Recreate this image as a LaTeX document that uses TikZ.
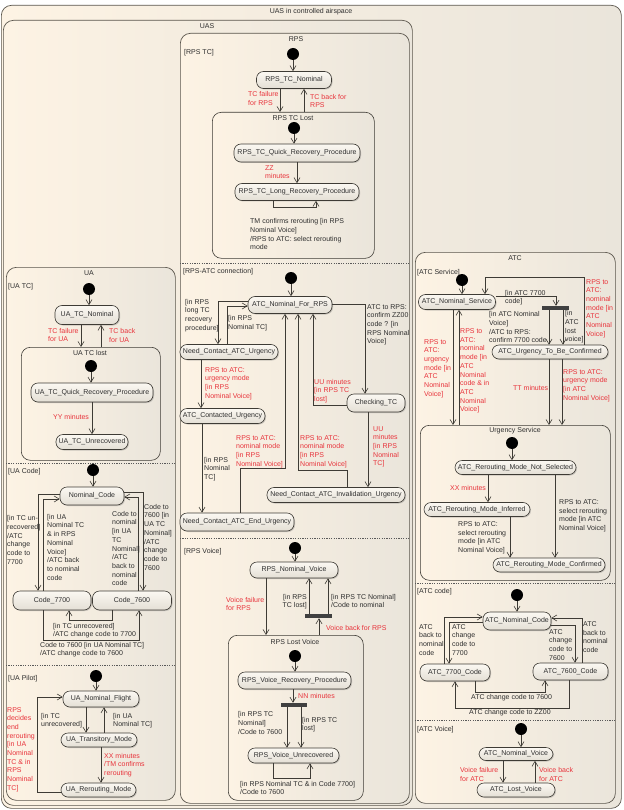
\documentclass[tikz,border=0pt]{standalone}
\usepackage{fontspec}
\setmainfont{Liberation Sans}
\usetikzlibrary{arrows.meta,shadows}
\definecolor{creamL}{HTML}{FDF3E4}
\definecolor{creamR}{HTML}{EAE5DB}
\definecolor{stT}{HTML}{FBF8F2}
\definecolor{stB}{HTML}{E4DFD5}
\definecolor{linec}{HTML}{3E3B35}
\definecolor{framec}{HTML}{5A554C}
\definecolor{txtc}{HTML}{2E2E2E}
\definecolor{redc}{HTML}{E8333B}
\newcommand\dgfont{\fontsize{7}{8.7}\selectfont}
\begin{document}
\begin{tikzpicture}[x=1pt,y=-1pt,
  font=\dgfont, text=txtc,
  frame/.style={draw=framec, line width=0.7pt, rounded corners=10pt, left color=creamL, right color=creamR, inner sep=0pt, anchor=north west},
  cframe/.style={draw=linec, line width=0.6pt, rounded corners=9pt, left color=creamL, right color=creamR, inner sep=0pt, anchor=north west},
  state/.style={draw=linec, line width=0.6pt, rounded corners=7pt, top color=stT, bottom color=stB, inner sep=1pt, drop shadow={shadow xshift=1pt,shadow yshift=-1pt,opacity=0.3,fill=black!60}},
  init/.style={circle, fill=black, draw=none, minimum size=12pt, inner sep=0pt},
  bar/.style={fill=black!75, draw=none, minimum height=4pt, inner sep=0pt},
  tr/.style={draw=linec, line width=0.6pt, -{Straight Barb[length=5pt,width=6pt]}},
  sep/.style={draw=black!65, line width=0.6pt, dash pattern=on 1.2pt off 1.2pt},
  ttl/.style={inner sep=0pt, anchor=center},
  lbl/.style={inner sep=0pt, anchor=north west, align=left},
  rlbl/.style={lbl, text=redc},
]
\useasboundingbox (0,0) rectangle (623,810);
\fill[white] (0,0) rectangle (623,810);
% ---------- frames ----------
\node[frame, minimum width=620pt, minimum height=803pt] (outer) at (1,5) {};
\node[ttl] (outerT) at (311,12) {UAS in controlled airspace};
\node[frame, minimum width=409pt, minimum height=785pt] (uas) at (3,20) {};
\node[ttl] (uasT) at (207,26) {UAS};
\node[frame, minimum width=229pt, minimum height=770pt] (rps) at (180,33) {};
\node[ttl] (rpsT) at (296,39) {RPS};
\node[frame, minimum width=169pt, minimum height=533pt] (ua) at (6,267) {};
\node[ttl] (uaT) at (89,273) {UA};
\node[frame, minimum width=200pt, minimum height=551pt] (atc) at (415,252) {};
\node[ttl] (atcT) at (515,258) {ATC};
% separators
\draw[sep] (rps.west |- 0,263) -- (rps.east |- 0,263);
\draw[sep] (rps.west |- 0,538) -- (rps.east |- 0,538);
\draw[sep] (ua.west |- 0,463) -- (ua.east |- 0,463);
\draw[sep] (ua.west |- 0,665) -- (ua.east |- 0,665);
\draw[sep] (atc.west |- 0,583) -- (atc.east |- 0,583);
\draw[sep] (atc.west |- 0,720) -- (atc.east |- 0,720);
% region labels
\node[lbl] (rtcL) at (184,49) {[RPS TC]};
\node[lbl] (rconnL) at (183,268) {[RPS-ATC connection]};
\node[lbl] (rvL) at (184,548) {[RPS Voice]};
\node[lbl] (uatcL) at (8,283) {[UA TC]};
\node[lbl] (uacL) at (8,468) {[UA Code]};
\node[lbl] (uapL) at (8,675) {[UA Pilot]};
\node[lbl] (atcsL) at (417,269) {[ATC Service]};
\node[lbl] (atccL) at (417,588) {[ATC code]};
\node[lbl] (atcvL) at (417,726) {[ATC Voice]};
% composite states
\node[cframe, minimum width=162pt, minimum height=146pt] (tclost) at (212,112) {};
\node[ttl] (tclostT) at (293,118) {RPS TC Lost};
\node[cframe, minimum width=139pt, minimum height=113pt] (uatclost) at (21,347) {};
\node[ttl] (uatclostT) at (90,353) {UA TC lost};
\node[cframe, minimum width=135pt, minimum height=165pt] (lostv) at (228,635) {};
\node[ttl] (lostvT) at (295,642) {RPS Lost Voice};
\node[cframe, minimum width=190pt, minimum height=155pt] (urgsvc) at (420,425) {};
\node[ttl] (urgsvcT) at (515,431) {Urgency Service};

% ---------- RPS TC ----------
\node[init] (i1) at (293,54) {};
\node[state, minimum width=75pt, minimum height=17pt] (tcnom) at (294,80) {RPS\_TC\_Nominal};
\node[init] (i2) at (294,128) {};
\node[state, minimum width=126pt, minimum height=18pt] (tcquick) at (297,153) {RPS\_TC\_Quick\_Recovery\_Procedure};
\node[state, minimum width=124pt, minimum height=17pt] (tclong) at (297,192) {RPS\_TC\_Long\_Recovery\_Procedure};
\draw[tr] (i1) -- (tcnom.north -| i1);
\draw[tr] (tcnom.south -| 280,0) -- (tclost.north -| 280,0);
\draw[tr] (tclost.north -| 304,0) -- (tcnom.south -| 304,0);
\draw[tr] (i2) -- (tcquick.north -| i2);
\draw[tr] (tcquick.south -| 297,0) -- (tclong.north -| 297,0);
\draw[tr] (tclong.south -| 273,0) |- (316,207) -- (tclong.south -| 316,0);
\node[rlbl] (l1) at (248,91.5) {TC failure\\for RPS};
\node[rlbl] (l2) at (310,94) {TC back for\\RPS};
\node[rlbl] (l3) at (265,165) {ZZ\\minutes};
\node[lbl] (l4) at (250,218.5) {TM confirms rerouting [in RPS\\Nominal Voice]\\/RPS to ATC: select rerouting\\mode};

% ---------- RPS-ATC connection ----------
\node[init] (i3) at (291,278) {};
\node[state, minimum width=84pt, minimum height=17pt] (atcnom) at (290,305) {ATC\_Nominal\_For\_RPS};
\node[state, minimum width=98pt, minimum height=15pt] (ncurg) at (229,352) {Need\_Contact\_ATC\_Urgency};
\node[state, minimum width=85pt, minimum height=15pt] (acurg) at (222.5,416) {ATC\_Contacted\_Urgency};
\node[state, minimum width=114pt, minimum height=18pt] (ncend) at (237,522) {Need\_Contact\_ATC\_End\_Urgency};
\node[state, minimum width=58pt, minimum height=18pt] (chk) at (376,403) {Checking\_TC};
\node[state, minimum width=138pt, minimum height=15pt] (ncinv) at (336,495) {Need\_Contact\_ATC\_Invalidation\_Urgency};
\draw[tr] (i3) -- (atcnom.north -| i3);
\draw[tr] (atcnom.west |- 0,301) -| (ncurg.north -| 218,0);
\draw[tr] (ncurg.north -| 227,0) |- (atcnom.west |- 0,306);
\draw[tr] (ncurg.south -| 201,0) -- (acurg.north -| 201,0);
\draw[tr] (acurg.south -| 202,0) -- (ncend.north -| 202,0);
\draw[tr] (ncend.north -| 240,0) |- (285,468) -- (atcnom.south -| 285,0);
\draw[tr] (atcnom.east |- 0,304) -| (chk.north -| 365,0);
\draw[tr] (chk.west |- 0,405) -| (atcnom.south -| 313,0);
\draw[tr] (chk.south -| 368,0) -- (ncinv.north -| 368,0);
\draw[tr] (ncinv.north -| 347,0) |- (298,470) -- (atcnom.south -| 298,0);
\node[lbl] (l5) at (185,299) {[in RPS\\long TC\\recovery\\procedure]};
\node[lbl] (l6) at (228,315.5) {[in RPS\\Nominal TC]};
\node[rlbl] (l7) at (205,367) {RPS to ATC:\\urgency mode\\{}[in RPS\\Nominal Voice]};
\node[lbl] (l8) at (204,457) {[in RPS\\Nominal\\TC]};
\node[rlbl] (l9) at (236,435) {RPS to ATC:\\nominal mode\\{}[in RPS\\Nominal Voice]};
\node[lbl] (l10) at (367,304) {ATC to RPS:\\confirm ZZ00\\code ? [in\\RPS Nominal\\Voice]};
\node[rlbl] (l11) at (314,379) {UU minutes\\{}[in RPS TC\\lost]};
\node[rlbl] (l12) at (373,426) {UU\\minutes\\{}[in RPS\\Nominal\\TC]};
\node[rlbl] (l13) at (300,435) {RPS to ATC:\\nominal mode\\{}[in RPS\\Nominal Voice]};

% ---------- RPS Voice ----------
\node[init] (i4) at (295,548) {};
\node[state, minimum width=88pt, minimum height=16pt] (nomv) at (294,570) {RPS\_Nominal\_Voice};
\node[bar, minimum width=27pt] (bar1) at (318.5,616) {};
\node[init] (i5) at (295,656) {};
\node[state, minimum width=113pt, minimum height=17pt] (vrec) at (294.5,680.5) {RPS\_Voice\_Recovery\_Procedure};
\node[bar, minimum width=26pt] (bar2) at (294,705) {};
\node[state, minimum width=91pt, minimum height=15pt] (vunrec) at (293.5,755.5) {RPS\_Voice\_Unrecovered};
\draw[tr] (i4) -- (nomv.north -| i4);
\draw[tr] (nomv.south -| 266,0) -- (lostv.north -| 266,0);
\draw[tr] (bar1.north -| 309,0) -- (nomv.south -| 309,0);
\draw[tr] (bar1.north -| 328,0) -- (nomv.south -| 328,0);
\draw[tr] (lostv.north -| 319,0) -- (bar1.south -| 319,0);
\draw[tr] (i5) -- (vrec.north -| i5);
\draw[tr] (vrec.south -| 293,0) -- (bar2.north -| 293,0);
\draw[tr] (bar2.south -| 287,0) -- (vunrec.north -| 287,0);
\draw[tr] (bar2.south -| 301,0) -- (vunrec.north -| 301,0);
\draw[tr] (vunrec.south -| 273,0) |- (310,778) -- (vunrec.south -| 310,0);
\node[rlbl] (l14) at (226,597) {Voice failure\\for RPS};
\node[lbl, anchor=north east, align=right] (l15) at (307,594) {[in RPS\\TC lost]};
\node[lbl] (l16) at (331,594) {[in RPS TC Nominal]\\/Code to nominal};
\node[rlbl] (l17) at (326,625.5) {Voice back for RPS};
\node[rlbl] (l18) at (298,693) {NN minutes};
\node[lbl] (l19) at (238,711.5) {[in RPS TC\\Nominal]\\/Code to 7600};
\node[lbl] (l20) at (302,717) {[in RPS TC\\lost]};
\node[lbl] (l21) at (240,781) {[in RPS Nominal TC \& in Code 7700]\\/Code to 7600};

% ---------- UA TC ----------
\node[init] (i6) at (89,289) {};
\node[state, minimum width=64pt, minimum height=19pt] (uatcnom) at (87,315) {UA\_TC\_Nominal};
\node[init] (i7) at (91,366) {};
\node[state, minimum width=122pt, minimum height=19pt] (uaquick) at (92,392.5) {UA\_TC\_Quick\_Recovery\_Procedure};
\node[state, minimum width=72pt, minimum height=15pt] (uaunrec) at (92,442) {UA\_TC\_Unrecovered};
\draw[tr] (i6) -- (uatcnom.north -| i6);
\draw[tr] (uatcnom.south -| 81,0) -- (uatclost.north -| 81,0);
\draw[tr] (uatclost.north -| 101,0) -- (uatcnom.south -| 101,0);
\draw[tr] (i7) -- (uaquick.north -| i7);
\draw[tr] (uaquick.south -| 92,0) -- (uaunrec.north -| 92,0);
\node[rlbl] (l22) at (48,328) {TC failure\\for UA};
\node[rlbl] (l23) at (109,328.5) {TC back\\for UA};
\node[rlbl] (l24) at (53,414.5) {YY minutes};

% ---------- UA Code ----------
\node[init] (i8) at (93,470) {};
\node[state, minimum width=64pt, minimum height=18pt] (nomcode) at (92,496) {Nominal\_Code};
\node[state, minimum width=78pt, minimum height=19pt] (c7700) at (52,600.5) {Code\_7700};
\node[state, minimum width=79pt, minimum height=19pt] (c7600) at (132,600.5) {Code\_7600};
\draw[tr] (i8) -- (nomcode.north -| i8);
\draw[tr] (nomcode.west |- 0,494) -| (c7700.north -| 38,0);
\draw[tr] (c7700.north -| 43,0) |- (nomcode.west |- 0,499);
\draw[tr] (nomcode.east |- 0,492) -| (c7600.north -| 143,0);
\draw[tr] (c7600.north -| 138,0) |- (nomcode.east |- 0,497);
\draw[tr] (c7600.south -| 112,0) |- (69,620) -- (c7700.south -| 69,0);
\draw[tr] (c7700.south -| 43,0) |- (139,640.5) -- (c7600.south -| 139,0);
\node[lbl] (l25) at (7,515.5) {[in TC un-\\recovered]\\/ATC\\change\\code to\\7700};
\node[lbl] (l26) at (47,514) {[in UA\\Nominal TC\\\& in RPS\\Nominal\\Voice]\\/ATC back\\to nominal\\code};
\node[lbl] (l27) at (112,511) {Code to\\nominal\\{}[in UA\\TC\\Nominal]\\/ATC\\back to\\nominal\\code};
\node[lbl] (l28) at (144,504) {Code to\\7600 [in\\UA TC\\Nominal]\\/ATC\\change\\code to\\7600};
\node[lbl] (l29) at (53,623) {[in TC unrecovered]\\/ATC change code to 7700};
\node[lbl] (l30) at (40,642) {Code to 7600 [in UA Nominal TC]\\/ATC change code to 7600};

% ---------- UA Pilot ----------
\node[init] (i9) at (96,676) {};
\node[state, minimum width=76pt, minimum height=16pt] (uanf) at (101,699) {UA\_Nominal\_Flight};
\node[state, minimum width=76pt, minimum height=14pt] (uatm) at (99,740) {UA\_Transitory\_Mode};
\node[state, minimum width=75pt, minimum height=14pt] (uarr) at (98.5,790) {UA\_Rerouting\_Mode};
\draw[tr] (i9) -- (uanf.north -| i9);
\draw[tr] (uanf.south -| 86,0) -- (uatm.north -| 86,0);
\draw[tr] (uatm.north -| 104,0) -- (uanf.south -| 104,0);
\draw[tr] (uatm.south -| 101,0) -- (uarr.north -| 101,0);
\draw[tr] (uarr.west |- 0,792) -| (37,697) -- (uanf.west |- 0,697);
\node[lbl] (l31) at (41,713) {[in TC\\unrecovered]};
\node[lbl] (l32) at (113,713) {[in UA\\Nominal TC]};
\node[rlbl] (l33) at (104,753) {XX minutes\\/TM confirms\\rerouting};
\node[rlbl] (l34) at (7,707) {RPS\\decides\\end\\rerouting\\{}[in UA\\Nominal\\TC \& in\\RPS\\Nominal\\TC]};

% ---------- ATC Service ----------
\node[init] (i10) at (462,280) {};
\node[state, minimum width=77pt, minimum height=15pt] (atcns) at (457,302) {ATC\_Nominal\_Service};
\node[bar, minimum width=27pt] (bar3) at (555.5,308) {};
\node[state, minimum width=116pt, minimum height=14pt] (atcutbc) at (550,352) {ATC\_Urgency\_To\_Be\_Confirmed};
\draw[tr] (i10) -- (atcns.north -| i10);
\draw[tr] (atcutbc.north -| 584,0) |- (485,277) -- (atcns.north -| 485,0);
\draw[tr] (atcns.east |- 0,296) -| (bar3.north -| 556,0);
\draw[tr] (bar3.south -| 549,0) -- (atcutbc.north -| 549,0);
\draw[tr] (bar3.south -| 563,0) -- (atcutbc.north -| 563,0);
\draw[tr] (atcutbc.south -| 549,0) -- (urgsvc.north -| 549,0);
\draw[tr] (atcutbc.south -| 562,0) -- (urgsvc.north -| 562,0);
\draw[tr] (atcns.south -| 453,0) -- (urgsvc.north -| 453,0);
\draw[tr] (urgsvc.north -| 459,0) -- (atcns.south -| 459,0);
\node[rlbl] (l35) at (586,279) {RPS to\\ATC:\\nominal\\mode [in\\ATC\\Nominal\\Voice]};
\node[lbl] (l36) at (505,290) {[in ATC 7700\\code]};
\node[lbl] (l37) at (489,311.5) {[in ATC Nominal\\Voice]\\/ATC to RPS:\\confirm 7700 code};
\node[lbl] (l38) at (565,310.5) {[in\\ATC\\lost\\voice]};
\node[rlbl] (l39) at (513,385.5) {TT minutes};
\node[rlbl] (l40) at (563,369) {RPS to ATC:\\urgency mode\\{}[in ATC\\Nominal Voice]};
\node[rlbl] (l41) at (424,339) {RPS to\\ATC:\\urgency\\mode [in\\ATC\\Nominal\\Voice]};
\node[rlbl] (l42) at (460,328.5) {RPS to\\ATC:\\nominal\\mode [in\\ATC\\Nominal\\code \& in\\ATC\\Nominal\\Voice]};

% ---------- Urgency Service ----------
\node[init] (i11) at (512,443) {};
\node[state, minimum width=121pt, minimum height=14pt] (rmns) at (515.5,467.5) {ATC\_Rerouting\_Mode\_Not\_Selected};
\node[state, minimum width=106pt, minimum height=14pt] (rmi) at (477,509.5) {ATC\_Rerouting\_Mode\_Inferred};
\node[state, minimum width=112pt, minimum height=14pt] (rmc) at (549,565) {ATC\_Rerouting\_Mode\_Confirmed};
\draw[tr] (i11) -- (rmns.north -| i11);
\draw[tr] (rmns.south -| 488,0) -- (rmi.north -| 488,0);
\draw[tr] (rmi.south -| 510,0) -- (rmc.north -| 510,0);
\draw[tr] (rmns.south -| 555,0) -- (rmc.north -| 555,0);
\node[rlbl] (l43) at (450,485) {XX minutes};
\node[lbl] (l44) at (458,521.5) {RPS to ATC:\\select rerouting\\mode [in ATC\\Nominal Voice]};
\node[lbl] (l45) at (559,499.5) {RPS to ATC:\\select rerouting\\mode [in ATC\\Nominal Voice]};

% ---------- ATC code ----------
\node[init] (i12) at (517,595) {};
\node[state, minimum width=68pt, minimum height=18pt] (atcnc) at (517,621) {ATC\_Nominal\_Code};
\node[state, minimum width=70pt, minimum height=17pt] (a7700) at (455,672.5) {ATC\_7700\_Code};
\node[state, minimum width=75pt, minimum height=17pt] (a7600) at (570.5,671.5) {ATC\_7600\_Code};
\draw[tr] (i12) -- (atcnc.north -| i12);
\draw[tr] (a7700.north -| 444,0) |- (atcnc.west |- 0,617);
\draw[tr] (atcnc.west |- 0,622) -| (a7700.north -| 449,0);
\draw[tr] (a7600.north -| 582,0) |- (atcnc.east |- 0,618);
\draw[tr] (atcnc.east |- 0,625) -| (a7600.north -| 575,0);
\draw[tr] (a7700.south -| 475,0) |- (545,692) -- (a7600.south -| 545,0);
\draw[tr] (a7600.south -| 569,0) |- (455,708) -- (a7700.south -| 455,0);
\node[lbl] (l46) at (419,624) {ATC\\back to\\nominal\\code};
\node[lbl] (l47) at (452,624) {ATC\\change\\code to\\7700};
\node[lbl] (l48) at (583,621.5) {ATC\\back to\\nominal\\code};
\node[lbl] (l49) at (549,629) {ATC\\change\\code to\\7600};
\node[lbl] (l50) at (471,694.5) {ATC change code to 7600};
\node[lbl] (l51) at (469,709.5) {ATC change code to ZZ00};

% ---------- ATC Voice ----------
\node[init] (i13) at (521,729) {};
\node[state, minimum width=74pt, minimum height=13pt] (atcnv) at (516,754) {ATC\_Nominal\_Voice};
\node[state, minimum width=78pt, minimum height=14pt] (atclv) at (516,790) {ATC\_Lost\_Voice};
\draw[tr] (i13) -- (atcnv.north -| i13);
\draw[tr] (atcnv.south -| 503,0) -- (atclv.north -| 503,0);
\draw[tr] (atclv.north -| 535,0) -- (atcnv.south -| 535,0);
\node[rlbl] (l52) at (460,767.5) {Voice failure\\for ATC};
\node[rlbl] (l53) at (539,767.5) {Voice back\\for ATC};
\end{tikzpicture}
\end{document}
